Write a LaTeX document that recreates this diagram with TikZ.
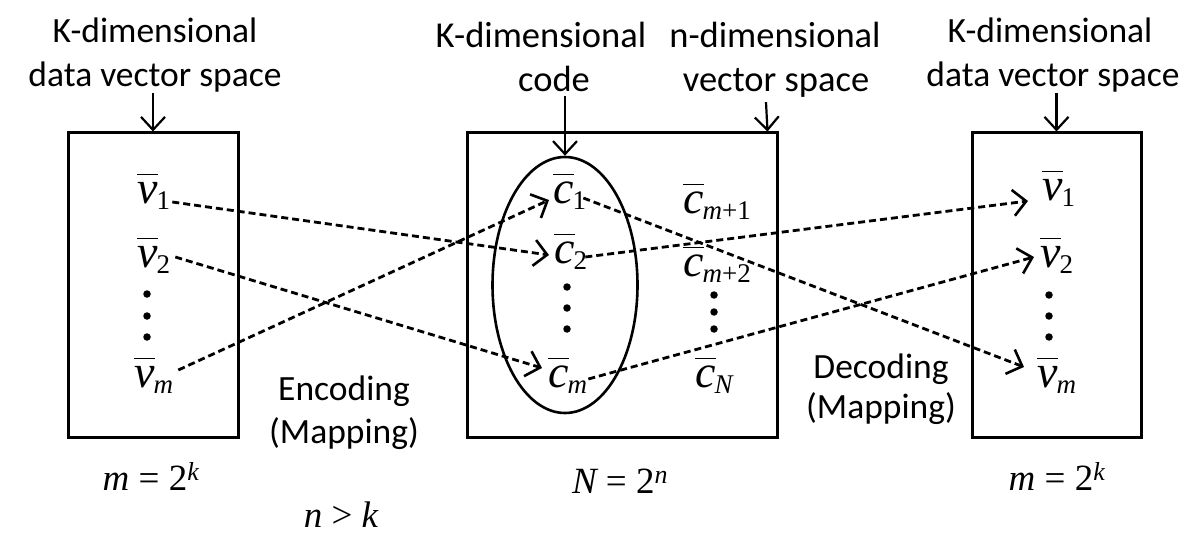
\documentclass[tikz,border=0pt]{standalone}
\usepackage{fontspec}
\usepackage{amsmath}
\setmainfont{Liberation Serif}
\newfontfamily\tms{Liberation Serif}
\newfontfamily\carl{Carlito}
\usetikzlibrary{arrows.meta,shapes.geometric}
% vector symbol with bar and subscript
\newcommand{\ov}[2]{$\overline{\text{\itshape #1\rule{0pt}{0.55em}}}$\kern-1pt\raisebox{-6pt}{\fontsize{27}{27}\selectfont #2}}
\begin{document}
\begin{tikzpicture}[x=1pt,y=-1pt,
  lbl/.style={font=\carl\fontsize{35.5}{44}\selectfont, anchor=base, inner sep=0},
  lblb/.style={font=\carl\fontsize{36.5}{44}\selectfont, anchor=base, inner sep=0},
  var/.style={font=\tms\fontsize{46}{48}\selectfont, anchor=base west, inner sep=0},
  mth/.style={font=\tms\fontsize{37}{44}\selectfont, anchor=base, inner sep=0},
  spacebox/.style={draw, line width=3pt, inner sep=0, minimum height=304pt},
  maplink/.style={line width=2.8pt, dash pattern=on 7pt off 4pt,
     -{Straight Barb[length=13pt,width=26pt,line width=2.6pt]}},
  pointer/.style={line width=2.2pt, -{Straight Barb[length=13pt,width=24pt,line width=2.2pt]}},
  dotc/.style={circle, fill, inner sep=0, minimum size=7.5pt}
]
\useasboundingbox (0,0) rectangle (1204,559);
\fill[white] (0,0) rectangle (1204,559);

% boxes
\node[spacebox, minimum width=170pt] (lbox) at (153,285) {};
\node[spacebox, minimum width=310pt] (mbox) at (622,285) {};
\node[spacebox, minimum width=169pt] (rbox) at (1056.5,285) {};
\node[draw, ellipse, line width=2.6pt, inner sep=0, minimum width=145pt, minimum height=256pt] (ell) at (565,285) {};

% top labels
\node[lbl] (tl1) at (155,43) {K-dimensional};
\node[lbl] (tl2) at (155,87) {data vector space};
\node[lblb] (tc1) at (541,48) {K-dimensional};
\node[lblb] (tc2) at (554,92) {code};
\node[lblb] (tn1) at (775,48) {n-dimensional};
\node[lblb] (tn2) at (776,92) {vector space};
\node[lbl] (tr1) at (1050,43) {K-dimensional};
\node[lbl] (tr2) at (1053,87) {data vector space};

\draw[pointer] (tl2.south -| lbox.north) -- (lbox.north);
\draw[pointer] ([yshift=-4pt]tc2.south -| ell.north) -- (ell.north);
\draw[pointer] ([yshift=-4pt]tn2.south -| 766,0) -- ([xshift=-11pt]mbox.north east);
\draw[pointer] (tr2.south -| rbox.north) -- (rbox.north);

% left vectors
\node[var] (L1) at (137,203) {\ov{v}{1}};
\node[var] (L2) at (137,267) {\ov{v}{2}};
\node[var] (Lm) at (134,387) {\ov{v}{\itshape m}};
\node[dotc] (ld1) at (147,294) {};
\node[dotc] (ld2) at (147,316) {};
\node[dotc] (ld3) at (147,337) {};

% code vectors
\node[var] (C1) at (553,203) {\ov{c}{1}};
\node[var] (C2) at (554,263) {\ov{c}{2}};
\node[var] (Cm) at (548,387) {\ov{c}{\itshape m}};
\node[dotc] (cd1) at (567,287) {};
\node[dotc] (cd2) at (567,308) {};
\node[dotc] (cd3) at (567,329) {};
\node[var] (Cp1) at (683,213) {\ov{c}{\itshape m\upshape +1}};
\node[var] (Cp2) at (683,276) {\ov{c}{\itshape m\upshape +2}};
\node[var] (CN) at (695,387) {\ov{c}{\itshape N}};
\node[dotc] (nd1) at (714,295) {};
\node[dotc] (nd2) at (714,312) {};
\node[dotc] (nd3) at (714,329) {};

% right vectors
\node[var] (R1) at (1042,200) {\ov{v}{1}};
\node[var] (R2) at (1040,267) {\ov{v}{2}};
\node[var] (Rm) at (1037,387) {\ov{v}{\itshape m}};
\node[dotc] (rd1) at (1049,295) {};
\node[dotc] (rd2) at (1049,316) {};
\node[dotc] (rd3) at (1049,337) {};

% mappings
\draw[maplink] ([shift={(2,-1)}]L1.base east) -- ([shift={(-5,-8)}]C2.base west);
\draw[maplink] ([shift={(5,-10)}]L2.base east) -- ([shift={(-6,-19)}]Cm.base west);
\draw[maplink] ([shift={(5,-17)}]Lm.base east) -- ([shift={(-4,-3)}]C1.base west);
\draw[maplink] ([shift={(-3,-5)}]C1.base east) -- ([shift={(-13,-20)}]Rm.base west);
\draw[maplink] ([shift={(-2,-6)}]C2.base east) -- ([shift={(-14,1)}]R1.base west);
\draw[maplink] ([shift={(1,-8)}]Cm.base east) -- ([shift={(-6,-10)}]R2.base west);

% bottom labels
\node[lbl] (enc1) at (344,400) {Encoding};
\node[lbl] (enc2) at (344,443) {(Mapping)};
\node[lbl] (dec1) at (881,378) {Decoding};
\node[lbl] (dec2) at (881,418) {(Mapping)};
\node[mth] (mL) at (151,490) {\itshape m\upshape\ = 2$^{\text{\itshape k}}$};
\node[mth] (NN) at (620,493) {\itshape N\upshape\ = 2$^{\text{\itshape n}}$};
\node[mth] (mR) at (1057,490) {\itshape m\upshape\ = 2$^{\text{\itshape k}}$};
\node[mth] (nk) at (341,527) {\itshape n\upshape\ > \itshape k};
\end{tikzpicture}
\end{document}
